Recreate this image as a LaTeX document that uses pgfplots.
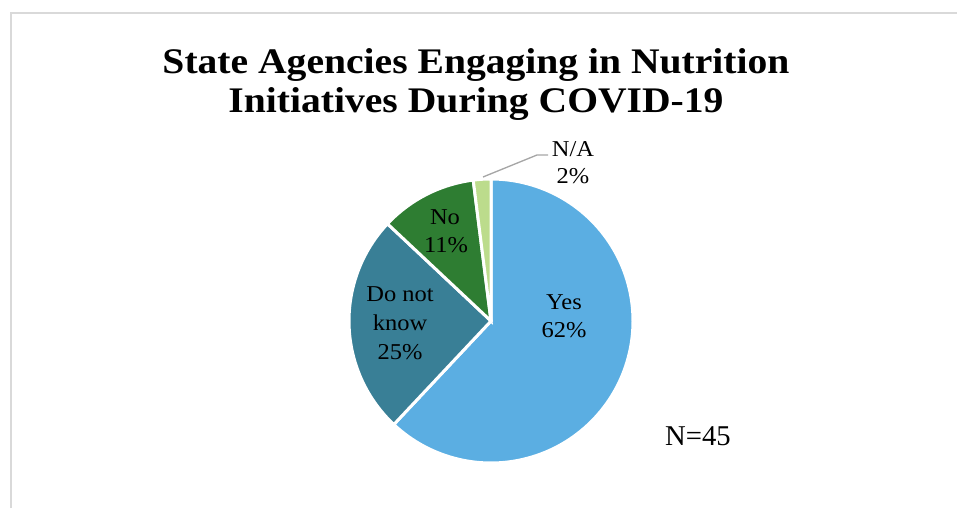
\documentclass[border=0pt]{standalone}
\usepackage{pgfplots}
\pgfplotsset{compat=1.18}
\usepackage{fontspec}
\setmainfont{Liberation Serif}
\newfontfamily\titlefont[FakeStretch=1.1]{Liberation Serif}
\newfontfamily\labelfont[FakeStretch=1.08]{Liberation Serif}
\definecolor{cYes}{RGB}{91,174,226}
\definecolor{cDNK}{RGB}{57,127,150}
\definecolor{cNo}{RGB}{46,125,50}
\definecolor{cNA}{RGB}{188,220,140}
\definecolor{frame}{RGB}{217,217,217}
\definecolor{leader}{RGB}{166,166,166}
% data (percent)
\def\pYes{62}
\def\pDNK{25}
\def\pNo{11}
\def\pNA{2}
\pgfmathsetmacro{\aA}{90}
\pgfmathsetmacro{\aB}{\aA-3.6*\pYes}
\pgfmathsetmacro{\aC}{\aB-3.6*\pDNK}
\pgfmathsetmacro{\aD}{\aC-3.6*\pNo}
\pgfmathsetmacro{\aE}{\aD-3.6*\pNA}
\def\cx{491}\def\cy{187}\def\R{142}
\newcommand{\lbl}[3]{\node[anchor=base,inner sep=0pt,font=\labelfont\fontsize{17}{20}\selectfont] at (axis cs:#1,#2) {#3};}
\begin{document}
\begin{tikzpicture}
\begin{axis}[
  x=0.75pt,y=0.75pt,
  xmin=0,xmax=957,ymin=0,ymax=508,
  hide axis, clip=false,
]
\draw[frame,line width=1.5pt] (axis cs:11,0) -- (axis cs:11,495) -- (axis cs:957,495);
\addplot[fill=cYes,draw=white,line width=2.25pt,domain=\aB:\aA,samples=120,variable=\t]
  ({\cx+\R*cos(\t)},{\cy+\R*sin(\t)}) -- (axis cs:\cx,\cy) -- cycle;
\addplot[fill=cDNK,draw=white,line width=2.25pt,domain=\aC:\aB,samples=60,variable=\t]
  ({\cx+\R*cos(\t)},{\cy+\R*sin(\t)}) -- (axis cs:\cx,\cy) -- cycle;
\addplot[fill=cNo,draw=white,line width=2.25pt,domain=\aD:\aC,samples=30,variable=\t]
  ({\cx+\R*cos(\t)},{\cy+\R*sin(\t)}) -- (axis cs:\cx,\cy) -- cycle;
\addplot[fill=cNA,draw=white,line width=2.25pt,domain=\aE:\aD,samples=10,variable=\t]
  ({\cx+\R*cos(\t)},{\cy+\R*sin(\t)}) -- (axis cs:\cx,\cy) -- cycle;
% title
\node[anchor=base,inner sep=0pt,font=\titlefont\bfseries\fontsize{27}{30}\selectfont] at (axis cs:476,434) {State Agencies Engaging in Nutrition};
\node[anchor=base,inner sep=0pt,font=\titlefont\bfseries\fontsize{27}{30}\selectfont] at (axis cs:476,395) {Initiatives During COVID-19};
% labels
\lbl{564}{199}{Yes}
\lbl{564}{171}{62\%}
\lbl{400}{206}{Do not}
\lbl{400}{177}{know}
\lbl{400}{149}{25\%}
\lbl{445}{283}{No}
\lbl{446}{255}{11\%}
\lbl{573}{351}{N/A}
\lbl{573}{324}{2\%}
\draw[leader,line width=1pt] (axis cs:483,331) -- (axis cs:537,353) -- (axis cs:548,353);
\node[anchor=base,inner sep=0pt,font=\fontsize{21.5}{24}\selectfont] at (axis cs:698,63) {N=45};
\end{axis}
\pgfresetboundingbox
\path (current axis.south west) rectangle (current axis.north east);
\end{tikzpicture}
\end{document}
